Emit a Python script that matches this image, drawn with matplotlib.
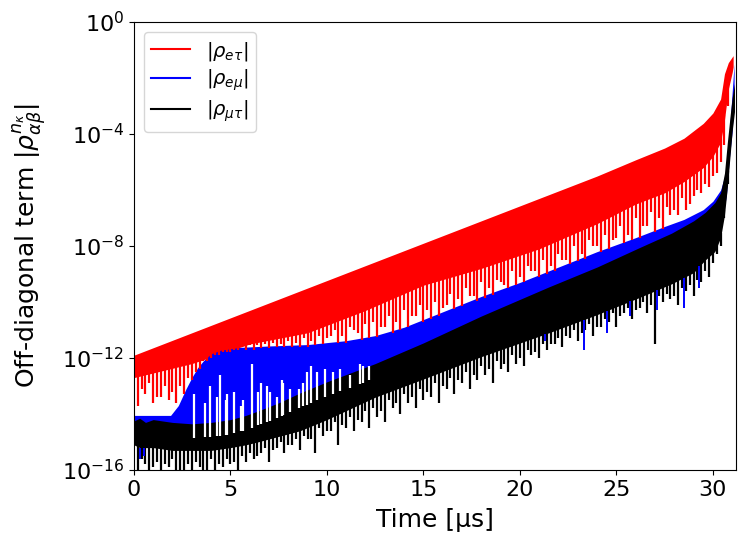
import numpy as np
import matplotlib
matplotlib.use("Agg")
import matplotlib.pyplot as plt

# ---------------- data (time in µs, values as log10 |rho|) ----------------
# dense band envelopes
red_t  = [0, 3, 6, 9, 12, 15, 18, 21, 24, 26, 27.5, 28.5, 29.5, 30.0, 30.4, 30.6, 30.8, 31.0, 31.05]
red_hi = [-11.9, -11.1, -10.3, -9.5, -8.7, -7.9, -7.1, -6.3, -5.5, -4.92, -4.5, -4.15, -3.62,
          -3.25, -2.75, -1.85, -1.45, -1.25, -1.2]
red_lo = [-12.7, -12.2, -11.5, -11.1, -10.3, -9.4, -8.8, -8.1, -7.2, -6.5, -6.1, -5.7, -5.2,
          -4.8, -4.3, -3.5, -2.4, -1.8, -1.6]

blue_t  = [0, 1.9, 2.3, 2.7, 3.0, 3.3, 3.6, 4.0, 4.5, 5.5, 7, 9, 11, 12.5, 14, 16, 18, 20, 22,
           24, 26, 27.5, 28.5, 29.5, 30.0, 30.4, 30.7, 30.85, 31.0, 31.1]
blue_hi = [-14.05, -14.05, -13.7, -13.1, -12.7, -12.35, -12.1, -11.85, -11.72, -11.62, -11.57,
           -11.52, -11.38, -11.2, -10.9, -10.35, -9.8, -9.3, -8.75, -8.2, -7.7, -7.3, -7.05,
           -6.7, -6.4, -6.0, -5.3, -4.0, -2.5, -1.5]
blue_lo = [-15.0, -15.1, -15.1, -15.1, -15.1, -15.0, -15.0, -14.9, -14.8, -14.7, -14.5, -14.1,
           -13.7, -13.2, -12.8, -12.3, -11.7, -11.3, -10.8, -10.2, -9.6, -9.2, -8.8, -8.4,
           -8.0, -7.4, -6.2, -4.9, -3.9, -2.7]

black_t  = [0, 0.3, 0.6, 1, 2, 3, 4, 5, 5.8, 6.4, 7.5, 8.6, 10, 12.5, 15, 18, 21.5, 24, 26.15,
            27.86, 29.0, 29.6, 30.1, 30.4, 30.6, 30.75, 30.9, 31.0, 31.12]
black_hi = [-14.25, -14.15, -14.3, -14.2, -14.3, -14.35, -14.3, -14.2, -14.05, -13.9, -13.6,
            -13.25, -12.85, -12.2, -11.46, -10.5, -9.46, -8.75, -8.07, -7.54, -7.1, -6.8,
            -6.45, -6.1, -5.4, -4.3, -3.3, -2.7, -2.2]
black_lo = [-15.1, -15.2, -15.2, -15.2, -15.3, -15.3, -15.3, -15.2, -15.1, -15.0, -14.8, -14.6,
            -14.2, -13.4, -12.75, -11.95, -11.1, -10.45, -9.85, -9.35, -8.95, -8.5, -8.2, -7.7,
            -6.9, -5.9, -4.7, -3.9, -3.2]

# local minima (spikes): set A at 0.2, 0.6, ... 30.6 µs ; set B at 0.4, 0.8, ... 30.8 µs
spike_t_a = np.arange(77) * 0.4 + 0.2
spike_t_b = np.arange(77) * 0.4 + 0.4

red_min_a = [-13.7, -13.3, -13.6, -13.4, -13.5, -13.6, -13.3, -12.8, -12.4, -12.1, -11.9, -11.8,
             -11.8, -11.7, -11.7, -11.7, -11.65, -11.65, -11.6, -11.6, -11.6, -11.6, -11.6,
             -11.55, -11.5, -11.2, -11.45, -11.45, -11.0, -11.35, -11.3, -11.25, -10.9, -11.1,
             -11.0, -10.9, -10.5, -10.7, -10.6, -10.5, -10.1, -10.25, -10.15, -9.8, -9.95, -9.85,
             -9.75, -9.3, -9.5, -9.4, -9.3, -8.9, -9.1, -9.0, -8.9, -8.5, -8.65, -8.55, -8.45,
             -8.0, -8.2, -8.1, -7.7, -7.9, -7.8, -7.7, -7.3, -7.5, -7.4, -6.9, -6.9, -6.7, -6.2,
             -6.1, -5.9, -5.4, -4.4]
red_min_b = [-13.1, -12.9, -13.4, -13.0, -13.2, -13.0, -12.7, -12.5, -12.1, -12.0, -11.9, -11.8,
             -11.7, -11.6, -11.55, -11.55, -11.5, -11.45, -11.5, -11.4, -11.45, -11.3, -11.4,
             -11.2, -11.3, -11.0, -11.2, -10.9, -11.1, -10.8, -10.7, -10.9, -10.5, -10.7, -10.3,
             -10.5, -10.1, -10.3, -10.0, -10.2, -9.7, -9.9, -9.5, -9.8, -9.3, -9.5, -9.2, -9.4,
             -8.9, -9.1, -8.7, -8.9, -8.5, -8.7, -8.3, -8.5, -8.0, -8.3, -7.8, -8.0, -7.6, -7.8,
             -7.3, -7.6, -7.0, -7.3, -6.8, -7.0, -6.6, -6.7, -6.3, -6.5, -6.0, -5.8, -5.5, -5.0,
             -3.0]

black_min_a = [-16.5, -15.8, -15.9, -16.5, -15.9, -16.3, -16.5, -16.0, -15.9, -16.5, -16.0, -15.9,
               -15.8, -16.5, -15.7, -15.6, -15.4, -15.7, -15.2, -15.4, -15.1, -15.3, -14.9, -15.4,
               -14.8, -14.6, -15.1, -14.5, -14.6, -14.3, -14.5, -14.1, -14.3, -13.8, -14.0, -13.6,
               -13.8, -13.5, -13.4, -13.6, -13.1, -13.3, -12.9, -13.1, -12.8, -12.6, -12.9, -12.4,
               -12.5, -12.2, -12.3, -11.9, -12.0, -11.7, -11.5, -11.6, -11.3, -11.4, -11.0, -11.2,
               -10.9, -10.7, -10.9, -10.4, -10.6, -10.2, -10.4, -11.5, -10.0, -9.9, -10.1, -9.6,
               -9.8, -9.3, -9.1, -8.3, -7.0]
black_min_b = [-15.6, -16.1, -15.7, -15.8, -15.6, -16.2, -15.8, -15.7, -16.0, -15.6, -15.8, -15.6,
               -15.7, -15.5, -15.4, -15.5, -15.2, -15.3, -15.0, -15.1, -14.9, -14.8, -14.9, -14.5,
               -14.6, -14.3, -14.4, -14.1, -14.2, -13.9, -13.8, -13.9, -13.5, -13.6, -13.3, -13.4,
               -13.1, -13.2, -12.9, -13.0, -12.7, -12.8, -12.5, -12.6, -12.3, -12.4, -12.1, -12.2,
               -11.9, -12.0, -11.7, -11.8, -11.5, -11.5, -11.3, -11.2, -11.0, -11.1, -10.8, -10.9,
               -10.6, -10.4, -10.5, -10.2, -10.3, -10.0, -10.1, -9.8, -9.7, -9.8, -9.5, -9.4,
               -9.2, -8.9, -8.6, -8.0, -5.8]

# blue deep minima visible below the black band
blue_spike_t = [0.3, 0.5, 21.3, 23.3, 24.5, 25.7, 27.1, 28.5, 29.3]
blue_min     = [-15.6, -15.5, -11.4, -11.7, -11.1, -10.5, -10.3, -10.2, -9.5]

# places where the blue band does not reach down to the black band
blue_gap_t   = [3.1, 3.7, 3.95, 4.3, 4.45, 4.75, 4.85, 5.2, 5.55, 5.65, 6.1, 6.45, 6.6, 6.9, 7.05,
                7.4, 7.65, 7.75, 8.1, 8.55, 8.75, 8.95, 9.2, 9.5, 9.9, 10.3, 10.7, 11.2, 11.7,
                11.85, 12.2]
blue_gap_top = [-13.3, -13.6, -13.0, -13.4, -12.6, -13.5, -13.3, -13.2, -13.7, -13.5, -12.2,
                -13.2, -12.9, -13.0, -13.2, -13.4, -12.8, -12.9, -13.1, -13.1, -12.9, -12.5,
                -12.3, -12.5, -12.4, -12.5, -12.4, -12.6, -12.2, -12.3, -12.3]

labels = [r'$|\rho_{e\tau}|$', r'$|\rho_{e\mu}|$', r'$|\rho_{\mu\tau}|$']
colors = ['red', 'blue', 'black']
ytick_vals = [1e0, 1e-4, 1e-8, 1e-12, 1e-16]
xtick_vals = [0, 5, 10, 15, 20, 25, 30]

# ---------------- plotting ----------------
def p(v):
    return 10.0 ** np.asarray(v, dtype=float)

fig = plt.figure(figsize=(7.48, 5.51), dpi=100)
ax = fig.add_axes([0.179, 0.147, 0.805, 0.813])
ax.set_yscale('log')

slw = 1.6

def draw_series(t, hi, lo, mins, color, label):
    ax.fill_between(t, p(lo), p(hi), color=color, lw=0)
    for st, mv in zip((spike_t_a, spike_t_b), mins):
        ax.vlines(st, p(mv), p(np.interp(st, t, lo)) * 1.5, color=color, lw=slw)
    ax.plot([], [], color=color, lw=1.5, label=label)

# red
draw_series(red_t, red_hi, red_lo, (red_min_a, red_min_b), colors[0], labels[0])

# blue
ax.fill_between(blue_t, p(blue_lo), p(blue_hi), color=colors[1], lw=0)
ax.vlines(blue_gap_t, p(np.interp(blue_gap_t, black_t, black_hi)) * 0.3, p(blue_gap_top),
          color='white', lw=1.6)
ax.plot([], [], color=colors[1], lw=1.5, label=labels[1])

# black
draw_series(black_t, black_hi, black_lo, (black_min_a, black_min_b), colors[2], labels[2])

# blue minima poking below the black band
ax.vlines(blue_spike_t, p(blue_min), p(np.interp(blue_spike_t, black_t, black_lo)),
          color=colors[1], lw=1.4)

ax.set_xlim(0, 31.2)
ax.set_ylim(1e-16, 1e0)
ax.set_yticks(ytick_vals)
ax.yaxis.set_minor_locator(matplotlib.ticker.NullLocator())
ax.set_xticks(xtick_vals)
ax.tick_params(labelsize=16)

ax.set_xlabel('Time [μs]', fontsize=18, labelpad=6)
ax.set_ylabel(r'Off-diagonal term $|\rho^{n_\kappa}_{\alpha\beta}|$', fontsize=18, labelpad=9)

ax.legend(loc='upper left', fontsize=14, labelspacing=0.27)

fig.savefig('out.png', dpi=100)
